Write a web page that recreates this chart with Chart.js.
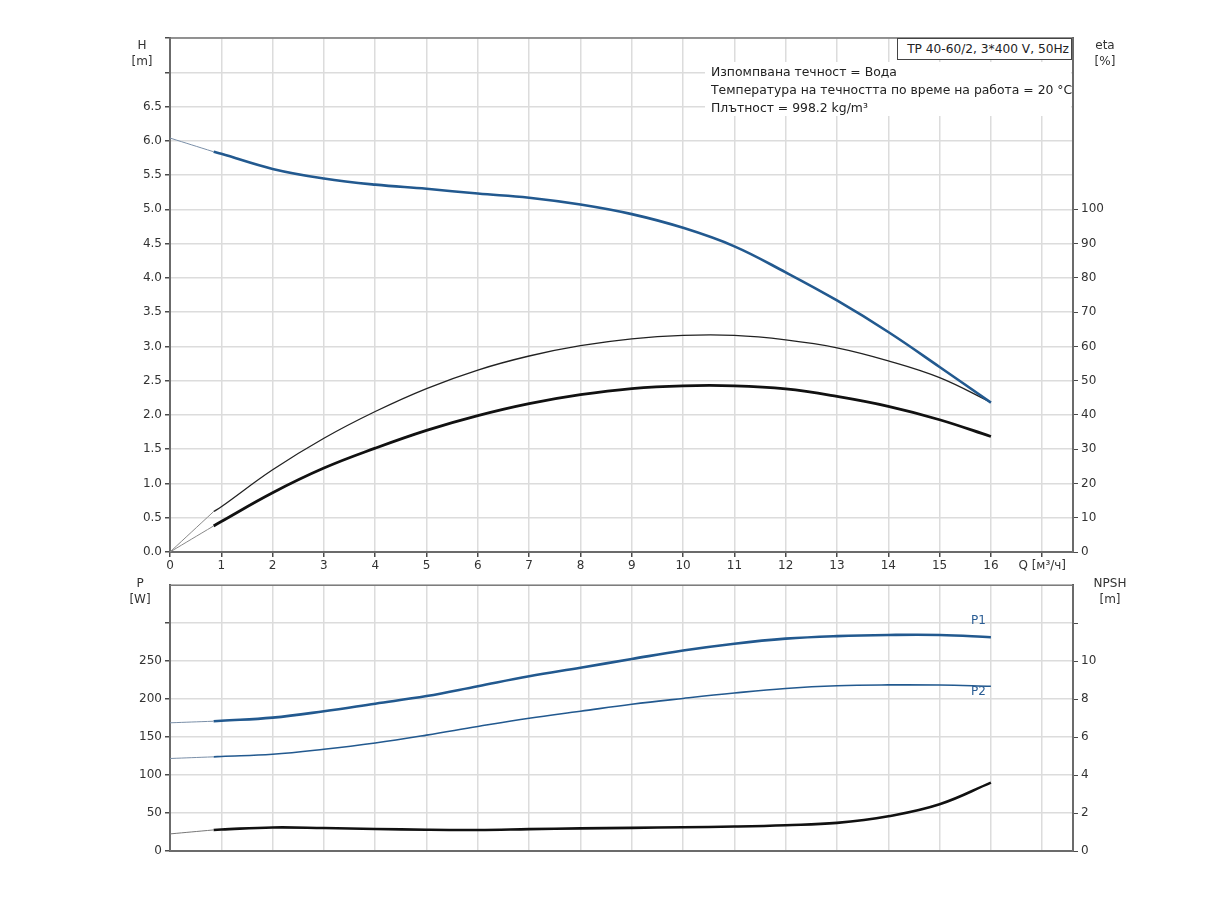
<!DOCTYPE html>
<html><head><meta charset="utf-8">
<script src="https://cdn.jsdelivr.net/npm/chart.js@4/dist/chart.umd.min.js"></script>
<style>
body{margin:0;background:#fff;width:1224px;height:900px;position:relative;overflow:hidden;font-family:"DejaVu Sans",Verdana,sans-serif;}
canvas{position:absolute;left:0;}
.t{position:absolute;font-size:12px;color:#333;white-space:nowrap;line-height:16px;text-align:center;}
.info{position:absolute;left:705px;top:62px;width:366px;height:54px;background:#fff;font-size:12.4px;color:#222;line-height:18px;padding-left:6px;box-sizing:border-box;padding-top:1px;white-space:nowrap;}
.tbox{position:absolute;left:897px;top:38px;width:175px;height:22px;background:#fff;border:1px solid #444;box-sizing:border-box;font-size:12.2px;color:#222;line-height:20px;text-align:right;padding-right:2px;white-space:nowrap;}
.pl{position:absolute;font-size:12px;color:#2a5d94;}
</style></head><body>
<canvas id="c1" width="1224" height="575" style="top:0"></canvas>
<canvas id="c2" width="1224" height="325" style="top:575px"></canvas>

<div class="t" style="left:122px;top:37px;width:40px;">H<br>[m]</div>
<div class="t" style="left:1085px;top:37px;width:40px;">eta<br>[%]</div>
<div class="t" style="left:120px;top:575px;width:40px;">P<br>[W]</div>
<div class="t" style="left:1080px;top:575px;width:60px;">NPSH<br>[m]</div>
<div class="tbox">TP 40-60/2, 3*400 V, 50Hz</div>
<div class="info">Изпомпвана течност = Вода<br>Температура на течността по време на работа = 20 °C<br>Плътност = 998.2 kg/m³</div>
<div class="pl" style="left:971px;top:613px;">P1</div>
<div class="pl" style="left:971px;top:684px;">P2</div>

<script>
// ---- data ----
const flowThin = [0, 0.85];
const flow = [0.85, 1, 2, 3, 4, 5, 6, 7, 8, 9, 10, 11, 12, 13, 14, 15, 16];

const headThin = [6.04, 5.84];
const head = [5.84, 5.81, 5.59, 5.45, 5.36, 5.30, 5.23, 5.17, 5.07, 4.93, 4.73, 4.46, 4.08, 3.67, 3.21, 2.70, 2.18];

const etaPumpThin = [0, 11.8];
const etaPump = [11.8, 13.2, 24.0, 33.2, 41.0, 47.7, 53.1, 57.2, 60.2, 62.2, 63.2, 63.2, 61.9, 59.6, 55.8, 50.9, 43.7];

const etaTotalThin = [0, 7.6];
const etaTotal = [7.6, 8.9, 17.3, 24.5, 30.3, 35.5, 39.8, 43.3, 45.9, 47.7, 48.5, 48.5, 47.6, 45.4, 42.5, 38.6, 33.7];

const p1Thin = [168.8, 170.9];
const p1 = [170.9, 171.5, 175.6, 184.0, 194.0, 204.0, 217.0, 230.0, 241.3, 252.8, 264.0, 273.0, 279.6, 283.0, 284.5, 284.5, 281.5];

const p2Thin = [121.8, 124.0];
const p2 = [124.0, 124.5, 127.4, 134.0, 142.3, 152.6, 164.0, 174.8, 184.0, 193.2, 200.9, 208.0, 214.0, 217.6, 218.7, 218.5, 217.0];

const npshThin = [0.9, 1.11];
const npsh = [1.11, 1.13, 1.24, 1.21, 1.16, 1.12, 1.11, 1.15, 1.19, 1.22, 1.25, 1.29, 1.36, 1.48, 1.83, 2.46, 3.6];

const qTickLabels = ['0','1','2','3','4','5','6','7','8','9','10','11','12','13','14','15','16','Q [м³/ч]'];
const hLabelMax = 6.5, etaLabelMax = 100, pLabelMax = 250, npshLabelMax = 10;

// ---- style ----
const FONT = '"DejaVu Sans", Verdana, sans-serif';
const BLUE = '#22598f', GRID = '#dcdcdc', AXIS = '#4a4a4a', TXT = '#333';
const pts = (xs, ys) => xs.map((x, i) => ({x: x, y: ys[i]}));
const fixW = w => s => { s.width = w; };
const fixH = h => s => { s.height = h; };
const frame = {id:'frame', beforeDatasetsDraw(c){
  const a = c.chartArea, g = c.ctx; g.save(); g.strokeStyle = '#777'; g.lineWidth = 1.5;
  g.strokeRect(a.left, a.top, a.right - a.left, a.bottom - a.top); g.restore(); }};
const tickFont = {size:12, family:FONT};
const common = {
  responsive:false, animation:false, devicePixelRatio:1,
  elements:{point:{radius:0}, line:{tension:0.4}},
  plugins:{legend:{display:false}, tooltip:{enabled:false}}
};
function ds(xs, ys, color, width, axis){
  return {data:pts(xs, ys), borderColor:color, borderWidth:width, yAxisID:axis, fill:false};
}

new Chart(document.getElementById('c1'), {
  type:'line',
  data:{datasets:[
    ds(flowThin, headThin, '#7a8fa8', 1, 'y'),
    ds(flow, head, BLUE, 2.6, 'y'),
    ds(flowThin, etaPumpThin, '#888', 1, 'eta'),
    ds(flow, etaPump, '#222', 1.3, 'eta'),
    ds(flowThin, etaTotalThin, '#888', 1, 'eta'),
    ds(flow, etaTotal, '#111', 2.8, 'eta')
  ]},
  options:Object.assign({}, common, {
    layout:{padding:{top:38, left:0, right:0, bottom:0}},
    scales:{
      x:{type:'linear', min:0, max:17.6, afterFit:fixH(23),
         ticks:{stepSize:1, includeBounds:false, autoSkip:false, maxRotation:0, color:TXT, font:tickFont, padding:2,
                callback:v => Number.isInteger(v) ? qTickLabels[v] : ''},
         grid:{color:GRID, lineWidth:1.5, tickColor:AXIS, tickLength:5},
         border:{color:AXIS, width:2}},
      y:{position:'left', min:0, max:7.5, afterFit:fixW(170),
         ticks:{stepSize:0.5, color:TXT, font:tickFont, padding:3, callback:v => v <= hLabelMax ? v.toFixed(1) : ''},
         grid:{color:GRID, lineWidth:1.5, tickColor:AXIS, tickLength:5},
         border:{color:AXIS, width:2}},
      eta:{position:'right', min:0, max:150, afterFit:fixW(151),
         ticks:{stepSize:10, color:TXT, font:tickFont, padding:3, callback:v => v <= etaLabelMax ? String(v) : null},
         grid:{drawOnChartArea:false, tickColor:AXIS, tickLength:5},
         border:{color:AXIS, width:2}}
    }
  }),
  plugins:[frame]
});

new Chart(document.getElementById('c2'), {
  type:'line',
  data:{datasets:[
    ds(flowThin, p1Thin, '#7a8fa8', 1, 'y'),
    ds(flow, p1, BLUE, 2.6, 'y'),
    ds(flowThin, p2Thin, '#7a8fa8', 1, 'y'),
    ds(flow, p2, BLUE, 1.6, 'y'),
    ds(flowThin, npshThin, '#777', 1, 'npsh'),
    ds(flow, npsh, '#111', 2.6, 'npsh')
  ]},
  options:Object.assign({}, common, {
    layout:{padding:{top:3, left:0, right:0, bottom:0}},
    scales:{
      x:{type:'linear', min:0, max:17.6, afterFit:fixH(49),
         ticks:{display:false, stepSize:1, includeBounds:false, autoSkip:false},
         grid:{color:GRID, lineWidth:1.5, drawTicks:false},
         border:{color:AXIS, width:2}},
      y:{position:'left', min:0, max:350, afterFit:fixW(170),
         ticks:{stepSize:50, color:TXT, font:tickFont, padding:3, callback:v => v <= pLabelMax ? String(v) : (v < 350 ? '' : null)},
         grid:{color:GRID, lineWidth:1.5, tickColor:AXIS, tickLength:5},
         border:{color:AXIS, width:2}},
      npsh:{position:'right', min:0, max:14, afterFit:fixW(151),
         ticks:{stepSize:2, color:TXT, font:tickFont, padding:3, callback:v => v <= npshLabelMax ? String(v) : (v < 14 ? '' : null)},
         grid:{drawOnChartArea:false, tickColor:AXIS, tickLength:5},
         border:{color:AXIS, width:2}}
    }
  }),
  plugins:[frame]
});
</script>
</body></html>
